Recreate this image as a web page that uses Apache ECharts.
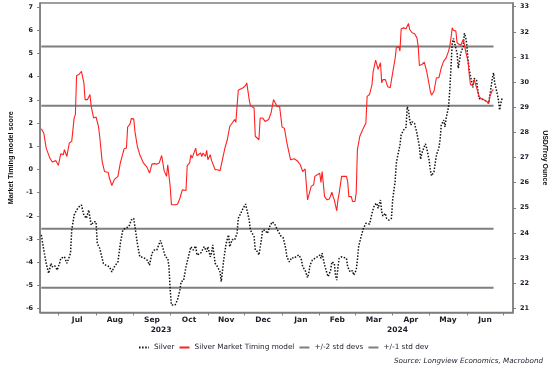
<!DOCTYPE html>
<html><head><meta charset="utf-8">
<script src="https://cdn.jsdelivr.net/npm/echarts@6/dist/echarts.min.js"></script>
<style>html,body{margin:0;padding:0;background:#fff}#c{width:556px;height:371px}</style>
</head><body><div id="c"></div>
<script>
const modelDates = ['2023-06-17','2023-06-19','2023-06-21','2023-06-24','2023-06-26','2023-06-29','2023-07-01','2023-07-03','2023-07-05','2023-07-06','2023-07-08','2023-07-10','2023-07-12','2023-07-14','2023-07-15','2023-07-16','2023-07-18','2023-07-20','2023-07-22','2023-07-23','2023-07-25','2023-07-27','2023-07-28','2023-07-30','2023-08-01','2023-08-03','2023-08-04','2023-08-06','2023-08-08','2023-08-11','2023-08-12','2023-08-14','2023-08-16','2023-08-19','2023-08-21','2023-08-24','2023-08-26','2023-08-27','2023-08-29','2023-08-30','2023-09-01','2023-09-02','2023-09-04','2023-09-06','2023-09-09','2023-09-12','2023-09-14','2023-09-16','2023-09-18','2023-09-20','2023-09-22','2023-09-24','2023-09-25','2023-09-26','2023-09-28','2023-09-29','2023-10-01','2023-10-02','2023-10-05','2023-10-07','2023-10-09','2023-10-11','2023-10-14','2023-10-15','2023-10-17','2023-10-18','2023-10-19','2023-10-22','2023-10-23','2023-10-26','2023-10-27','2023-10-28','2023-10-30','2023-10-31','2023-11-01','2023-11-03','2023-11-04','2023-11-05','2023-11-07','2023-11-09','2023-11-11','2023-11-12','2023-11-15','2023-11-17','2023-11-19','2023-11-21','2023-11-23','2023-11-24','2023-11-26','2023-11-28','2023-11-30','2023-12-02','2023-12-03','2023-12-05','2023-12-06','2023-12-09','2023-12-10','2023-12-11','2023-12-13','2023-12-14','2023-12-16','2023-12-18','2023-12-21','2023-12-23','2023-12-25','2023-12-26','2023-12-28','2023-12-30','2024-01-01','2024-01-03','2024-01-05','2024-01-06','2024-01-08','2024-01-09','2024-01-11','2024-01-14','2024-01-16','2024-01-18','2024-01-20','2024-01-22','2024-01-23','2024-01-25','2024-01-27','2024-01-28','2024-01-30','2024-02-01','2024-02-02','2024-02-03','2024-02-05','2024-02-07','2024-02-09','2024-02-11','2024-02-12','2024-02-13','2024-02-15','2024-02-16','2024-02-17','2024-02-19','2024-02-20','2024-02-23','2024-02-24','2024-02-25','2024-02-27','2024-02-28','2024-03-01','2024-03-02','2024-03-03','2024-03-05','2024-03-06','2024-03-08','2024-03-10','2024-03-11','2024-03-13','2024-03-14','2024-03-15','2024-03-16','2024-03-18','2024-03-19','2024-03-20','2024-03-22','2024-03-23','2024-03-24','2024-03-26','2024-03-28','2024-03-30','2024-03-31','2024-04-01','2024-04-03','2024-04-04','2024-04-06','2024-04-07','2024-04-08','2024-04-10','2024-04-12','2024-04-14','2024-04-15','2024-04-17','2024-04-19','2024-04-21','2024-04-22','2024-04-23','2024-04-25','2024-04-27','2024-04-28','2024-04-29','2024-05-01','2024-05-02','2024-05-03','2024-05-05','2024-05-06','2024-05-07','2024-05-09','2024-05-11','2024-05-13','2024-05-15','2024-05-17','2024-05-18','2024-05-19','2024-05-20','2024-05-21','2024-05-23','2024-05-24','2024-05-25','2024-05-27','2024-05-29','2024-05-30','2024-05-31','2024-06-02','2024-06-03','2024-06-04','2024-06-06','2024-06-07','2024-06-08','2024-06-10','2024-06-11','2024-06-13','2024-06-15','2024-06-17','2024-06-19','2024-06-20','2024-06-22','2024-06-23'];
const modelScores = [1.75,1.57,0.92,0.49,0.32,0.38,0.17,0.68,0.63,0.85,0.56,1.14,1.21,2.22,2.36,4.05,4.09,4.23,3.73,3.01,3.01,3.23,2.72,2.22,2.26,1.86,1.43,0.35,-0.09,-0.13,-0.37,-0.69,-0.44,-0.30,0.28,0.88,0.92,1.83,1.96,2.19,2.18,1.64,0.99,0.63,0.28,0.09,-0.16,0.23,0.25,0.23,0.28,0.60,0.56,-0.05,-0.30,0.20,-0.73,-1.52,-1.52,-1.50,-1.24,-0.88,-0.91,0.16,0.28,0.63,0.49,0.92,0.59,0.71,0.56,0.71,0.56,0.82,0.42,0.63,0.39,0.42,-0.01,-0.01,-0.06,-0.09,0.92,1.28,1.86,2.00,2.15,2.03,3.41,3.47,3.52,3.62,3.73,3.01,2.75,2.65,1.43,1.43,1.28,2.22,2.22,2.07,2.15,2.44,3.01,2.98,2.70,2.72,1.83,1.77,1.14,1.07,0.42,0.49,0.46,0.35,0.20,-0.09,0.02,-1.31,-1.28,-0.73,-0.66,-0.30,-0.23,-0.16,-0.56,-0.09,-1.17,-1.31,-1.27,-0.98,-1.17,-1.31,-1.78,-1.31,-1.02,-0.30,-0.30,-0.30,-0.52,-1.17,-1.17,-1.38,-1.38,-1.02,0.85,1.43,1.38,1.79,2.00,3.15,3.23,3.44,3.66,4.23,4.71,4.52,4.31,4.60,3.73,3.87,3.87,3.56,3.52,3.49,4.16,4.77,5.24,5.30,5.10,6.06,6.10,6.06,6.29,6.03,5.89,5.85,5.67,5.31,4.48,4.52,4.62,4.70,4.23,3.66,3.37,3.20,3.37,3.66,3.95,3.95,4.38,4.67,4.81,5.10,5.31,5.67,6.10,6.00,5.96,5.46,5.39,5.34,5.60,5.39,5.10,4.67,4.09,3.66,3.62,3.87,3.95,3.37,3.15,3.04,3.01,2.94,2.84,3.15,3.41,3.44];

const silverDates = ['2023-06-17','2023-06-19','2023-06-21','2023-06-23','2023-06-25','2023-06-26','2023-06-28','2023-06-30','2023-07-02','2023-07-03','2023-07-06','2023-07-08','2023-07-10','2023-07-11','2023-07-12','2023-07-14','2023-07-16','2023-07-18','2023-07-20','2023-07-22','2023-07-24','2023-07-26','2023-07-27','2023-07-28','2023-07-30','2023-08-01','2023-08-02','2023-08-04','2023-08-07','2023-08-09','2023-08-12','2023-08-14','2023-08-16','2023-08-19','2023-08-21','2023-08-23','2023-08-25','2023-08-28','2023-08-30','2023-09-01','2023-09-02','2023-09-04','2023-09-06','2023-09-09','2023-09-12','2023-09-14','2023-09-16','2023-09-18','2023-09-20','2023-09-21','2023-09-23','2023-09-25','2023-09-27','2023-09-29','2023-09-30','2023-10-01','2023-10-02','2023-10-05','2023-10-07','2023-10-09','2023-10-10','2023-10-12','2023-10-14','2023-10-16','2023-10-18','2023-10-20','2023-10-22','2023-10-23','2023-10-26','2023-10-27','2023-10-29','2023-10-31','2023-11-01','2023-11-03','2023-11-04','2023-11-05','2023-11-07','2023-11-09','2023-11-11','2023-11-12','2023-11-14','2023-11-16','2023-11-18','2023-11-19','2023-11-21','2023-11-23','2023-11-25','2023-11-26','2023-11-28','2023-11-30','2023-12-02','2023-12-03','2023-12-05','2023-12-06','2023-12-09','2023-12-10','2023-12-12','2023-12-13','2023-12-15','2023-12-16','2023-12-18','2023-12-20','2023-12-22','2023-12-24','2023-12-26','2023-12-28','2023-12-29','2023-12-31','2024-01-02','2024-01-04','2024-01-05','2024-01-07','2024-01-09','2024-01-11','2024-01-13','2024-01-15','2024-01-17','2024-01-18','2024-01-20','2024-01-22','2024-01-23','2024-01-24','2024-01-26','2024-01-28','2024-01-30','2024-02-01','2024-02-02','2024-02-03','2024-02-05','2024-02-07','2024-02-08','2024-02-10','2024-02-11','2024-02-13','2024-02-14','2024-02-15','2024-02-16','2024-02-17','2024-02-19','2024-02-21','2024-02-23','2024-02-24','2024-02-26','2024-02-28','2024-02-29','2024-03-02','2024-03-03','2024-03-04','2024-03-06','2024-03-07','2024-03-08','2024-03-10','2024-03-11','2024-03-13','2024-03-14','2024-03-15','2024-03-17','2024-03-19','2024-03-20','2024-03-22','2024-03-23','2024-03-24','2024-03-26','2024-03-27','2024-03-29','2024-03-31','2024-04-01','2024-04-03','2024-04-04','2024-04-05','2024-04-07','2024-04-08','2024-04-10','2024-04-12','2024-04-13','2024-04-14','2024-04-15','2024-04-16','2024-04-17','2024-04-19','2024-04-21','2024-04-23','2024-04-24','2024-04-25','2024-04-27','2024-04-28','2024-04-29','2024-05-01','2024-05-02','2024-05-03','2024-05-05','2024-05-06','2024-05-07','2024-05-09','2024-05-10','2024-05-11','2024-05-13','2024-05-14','2024-05-15','2024-05-17','2024-05-18','2024-05-19','2024-05-20','2024-05-21','2024-05-22','2024-05-24','2024-05-25','2024-05-26','2024-05-27','2024-05-29','2024-05-30','2024-05-31','2024-06-01','2024-06-02','2024-06-03','2024-06-05','2024-06-06','2024-06-07','2024-06-09','2024-06-10','2024-06-11','2024-06-13','2024-06-15','2024-06-17','2024-06-19','2024-06-20','2024-06-22','2024-06-23','2024-06-24','2024-06-26','2024-06-27','2024-06-28','2024-06-29','2024-06-30'];
const silverPrices = [23.92,23.32,22.79,22.39,22.79,22.65,22.70,22.52,22.79,22.99,23.05,22.79,23.05,23.19,24.11,24.71,24.91,25.04,25.11,24.71,24.58,24.91,24.94,24.31,24.44,24.44,23.58,23.39,22.79,22.72,22.65,22.45,22.65,22.85,23.58,24.11,24.18,24.25,24.51,24.58,24.25,23.58,23.05,23.02,22.92,22.72,23.19,23.32,23.32,23.39,23.70,23.40,23.05,22.99,22.65,21.73,21.13,21.13,21.33,21.73,22.06,22.10,22.65,23.05,23.45,23.32,23.48,23.12,23.19,23.12,23.45,23.25,23.45,23.05,23.19,23.52,22.79,22.65,22.45,22.06,22.92,23.58,23.92,23.45,23.74,23.72,23.98,24.58,24.78,24.98,25.15,25.11,24.51,24.11,23.85,23.32,23.25,23.12,23.72,24.11,24.11,23.98,24.27,24.44,24.35,24.14,24.18,23.88,23.80,23.39,23.05,22.85,23.02,22.99,23.08,23.12,22.92,22.65,22.52,22.22,22.39,22.72,22.92,22.99,23.05,23.12,22.99,23.19,22.72,22.39,22.26,22.52,22.85,22.79,22.32,22.12,22.65,22.99,23.05,23.02,22.99,22.65,22.45,22.50,22.32,22.52,22.92,23.45,23.85,23.92,24.18,24.38,24.44,24.35,24.31,24.78,25.11,25.18,24.98,25.31,24.84,24.67,24.78,24.58,24.51,24.58,25.31,26.04,26.77,27.03,27.50,27.90,28.09,28.20,29.02,28.89,28.49,28.29,28.42,28.36,27.96,27.43,26.93,27.17,27.43,27.54,27.37,26.90,26.50,26.27,26.43,26.77,27.10,27.37,27.70,28.29,28.49,28.22,28.56,29.02,29.69,30.61,31.54,31.74,31.67,31.15,30.55,30.61,31.15,31.41,31.94,31.81,31.48,30.88,30.48,30.02,29.79,30.15,30.08,29.69,29.35,29.33,29.29,29.25,29.16,29.49,30.15,30.37,29.95,29.55,29.29,28.89,29.16,29.35];

const twoStdLevels = [5.3, -5.1];
const oneStdLevels = [2.75, -2.55];
const monthTicks = ['2023-07-01','2023-08-01','2023-09-01','2023-10-01','2023-11-01','2023-12-01','2024-01-01','2024-02-01','2024-03-01','2024-04-01','2024-05-01','2024-06-01','2024-07-01'];
const monthLabels = ['Jul','Aug','Sep','Oct','Nov','Dec','Jan','Feb','Mar','Apr','May','Jun'];
const yearLabels = ['2023','2024'];
const yearStarts = ['2024-01-01'];
const leftTicks = [-6,-5,-4,-3,-2,-1,0,1,2,3,4,5,6,7];
const rightTicks = [21,22,23,24,25,26,27,28,29,30,31,32,33];

function ts(s){ const p=s.split('-').map(Number); return new Date(p[0],p[1]-1,p[2]).getTime(); }
const xMin = ts('2023-06-16'), xMax = ts('2024-07-09');
const tickVals = monthTicks.map(ts);
const monthMid = monthLabels.map((m,i)=>(tickVals[i]+tickVals[i+1])/2);
const yb = ts(yearStarts[0]);
const yearMid = [(xMin+yb)/2, (yb+xMax)/2];

function nearestLabel(v, pos, labels){
  let bi=0, bd=Infinity;
  pos.forEach((p,i)=>{ const d=Math.abs(p-v); if(d<bd){bd=d;bi=i;} });
  return labels[bi];
}
function levelLine(levels){
  const a=ts(modelDates[0]), b=ts(modelDates[modelDates.length-1]);
  const out=[];
  levels.forEach((lv,i)=>{ if(i>0) out.push([b,'-']); out.push([a,lv]); out.push([b,lv]); });
  return out;
}

const gray='#7f7f7f', txt='#1c1c2a';
const chart = echarts.init(document.getElementById('c'), null, {renderer:'canvas'});
chart.setOption({
  animation:false,
  backgroundColor:'#fff',
  textStyle:{fontFamily:'DejaVu Sans'},
  title:{text:'Source: Longview Economics, Macrobond', right:8, top:353,
    textStyle:{fontSize:7.2, fontStyle:'italic', fontWeight:'normal', color:txt, fontFamily:'DejaVu Sans'}},
  legend:{left:133, top:339, itemWidth:10, itemHeight:8, itemGap:4,
    itemStyle:{opacity:0},
    data:['Silver','Silver Market Timing model','+/-2 std devs','+/-1 std dev'],
    textStyle:{fontSize:7.3, color:txt, fontFamily:'DejaVu Sans'}},
  grid:{left:33, right:37, top:3, bottom:58.5, show:true, borderColor:gray, borderWidth:1.5},
  xAxis:[{
    type:'value', min:xMin, max:xMax, scale:true,
    axisLine:{show:true, onZero:false, lineStyle:{color:gray, width:1.5}},
    axisTick:{show:true, length:3, customValues:tickVals, lineStyle:{color:gray, width:1}},
    axisLabel:{customValues:monthMid, margin:4, fontSize:7.5, color:txt, fontFamily:'DejaVu Sans', fontWeight:'bold',
      formatter:(v)=>nearestLabel(v, monthMid, monthLabels)},
    splitLine:{show:false}
  },{
    type:'value', min:xMin, max:xMax, scale:true, position:'bottom', offset:10,
    axisLine:{show:false, onZero:false}, axisTick:{show:false}, splitLine:{show:false},
    axisLabel:{customValues:yearMid, margin:4, fontSize:7.5, color:txt, fontFamily:'DejaVu Sans', fontWeight:'bold',
      formatter:(v)=>nearestLabel(v, yearMid, yearLabels)}
  }],
  yAxis:[{
    type:'value', min:-6.164, max:7.172, position:'left',
    name:'Market Timing model score', nameLocation:'middle', nameGap:22,
    nameTextStyle:{fontFamily:'Liberation Sans', fontWeight:'bold', fontSize:7.2, color:'#111'},
    axisLine:{show:true, onZero:false, lineStyle:{color:gray, width:1.5}},
    axisTick:{show:true, length:3, customValues:leftTicks, lineStyle:{color:gray}},
    axisLabel:{customValues:leftTicks, margin:7, fontSize:6.5, color:txt, fontWeight:'bold', fontFamily:'DejaVu Sans'},
    splitLine:{show:false}
  },{
    type:'value', min:20.833, max:33.147, position:'right',
    name:'USD/Troy Ounce', nameLocation:'middle', nameGap:20, nameRotate:-90,
    nameTextStyle:{fontFamily:'Liberation Sans', fontWeight:'bold', fontSize:7, color:'#111', padding:[0,0,8,0]},
    axisLine:{show:true, onZero:false, lineStyle:{color:gray, width:1.5}},
    axisTick:{show:true, length:3, customValues:rightTicks, lineStyle:{color:gray}},
    axisLabel:{customValues:rightTicks, margin:7, fontSize:6.5, color:txt, fontWeight:'bold', fontFamily:'DejaVu Sans'},
    splitLine:{show:false}
  }],
  series:[
    {name:'+/-2 std devs', type:'line', xAxisIndex:0, yAxisIndex:0, symbol:'none', connectNulls:false,
      lineStyle:{color:gray, width:2}, itemStyle:{color:'#555'}, data:levelLine(twoStdLevels), z:1},
    {name:'+/-1 std dev', type:'line', xAxisIndex:0, yAxisIndex:0, symbol:'none', connectNulls:false,
      lineStyle:{color:gray, width:2}, itemStyle:{color:'#555'}, data:levelLine(oneStdLevels), z:1},
    {name:'Silver', type:'line', xAxisIndex:0, yAxisIndex:1, symbol:'none',
      lineStyle:{color:'#111', width:1.5, type:[1.5,1.6]}, itemStyle:{color:'#111'},
      data:silverDates.map((d,i)=>[ts(d), silverPrices[i]]), z:3},
    {name:'Silver Market Timing model', type:'line', xAxisIndex:0, yAxisIndex:0, symbol:'none',
      lineStyle:{color:'#ff2020', width:1.1}, itemStyle:{color:'#ff2020'},
      data:modelDates.map((d,i)=>[ts(d), modelScores[i]]), z:4}
  ]
});
</script></body></html>
